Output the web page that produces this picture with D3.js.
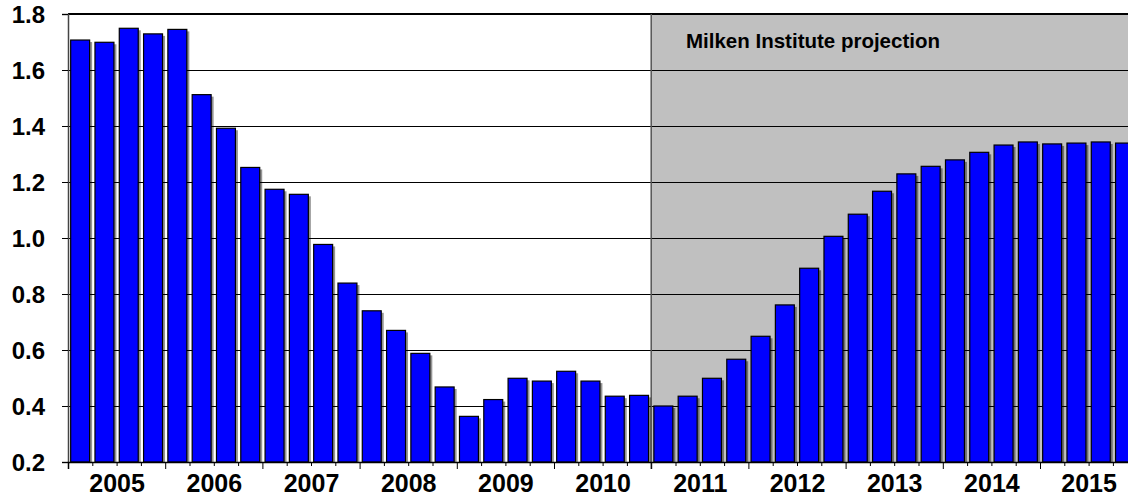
<!DOCTYPE html>
<html>
<head>
<meta charset="utf-8">
<script src="https://cdn.jsdelivr.net/npm/d3@7"></script>
<style>
  html, body { margin: 0; padding: 0; background: #fff; }
  svg { display: block; }
  text { font-family: "Liberation Sans", Arial, sans-serif; font-weight: bold; fill: #000; }
</style>
</head>
<body>
<svg id="chart" width="1128" height="499"></svg>
<script>
// ---- data ----
const years = ["2005","2006","2007","2008","2009","2010","2011","2012","2013","2014","2015"];
const quarters = ["Q1","Q2","Q3","Q4"];
const values = [
  1.707, 1.699, 1.749, 1.729,   // 2005
  1.745, 1.512, 1.392, 1.252,   // 2006
  1.174, 1.156, 0.977, 0.839,   // 2007
  0.740, 0.670, 0.588, 0.468,   // 2008
  0.363, 0.423, 0.499, 0.489,   // 2009
  0.524, 0.489, 0.435, 0.438,   // 2010
  0.400, 0.435, 0.499, 0.567,   // 2011
  0.649, 0.761, 0.892, 1.006,   // 2012
  1.085, 1.167, 1.229, 1.256,   // 2013
  1.279, 1.306, 1.332, 1.343,   // 2014
  1.336, 1.339, 1.343, 1.339    // 2015
];
const yTicks = [0.2, 0.4, 0.6, 0.8, 1.0, 1.2, 1.4, 1.6, 1.8];
const projectionStartYear = "2011";
const projectionLabel = "Milken Institute projection";

// ---- layout ----
const svg = d3.select("#chart");
const plotLeft = 68, plotTop = 14, plotBottom = 462;
const qWidth = 24.3;
const plotRight = plotLeft + qWidth * values.length;

const periods = [];
years.forEach(yr => quarters.forEach(q => periods.push(yr + " " + q)));
const data = periods.map((p, i) => ({ period: p, value: values[i] }));

const x = d3.scaleBand().domain(periods).range([plotLeft, plotRight]).paddingInner(0.22).paddingOuter(0.11);
const xi = d3.scaleLinear().domain([0, periods.length]).range([plotLeft, plotRight]);
const y = d3.scaleLinear().domain([0.2, 1.8]).range([plotBottom, plotTop]);

// projection shading
const projStart = xi(years.indexOf(projectionStartYear) * 4);
svg.append("rect")
  .attr("x", projStart).attr("y", plotTop)
  .attr("width", plotRight - projStart).attr("height", plotBottom - plotTop)
  .attr("fill", "#C0C0C0");

// gridlines
svg.append("g").selectAll("line").data(yTicks.slice(1)).join("line")
  .attr("x1", plotLeft).attr("x2", plotRight)
  .attr("y1", d => Math.round(y(d)) + 0.5).attr("y2", d => Math.round(y(d)) + 0.5)
  .attr("stroke", "#000").attr("stroke-width", 1);

// top border (thicker)
svg.append("line")
  .attr("x1", plotLeft).attr("x2", plotRight)
  .attr("y1", y(1.8)).attr("y2", y(1.8))
  .attr("stroke", "#000").attr("stroke-width", 2);

// projection separator
svg.append("line")
  .attr("x1", projStart).attr("x2", projStart)
  .attr("y1", plotTop).attr("y2", plotBottom + 7)
  .attr("stroke", "#555").attr("stroke-width", 1.5);

// projection label
svg.append("text")
  .attr("x", 686).attr("y", 48)
  .attr("font-size", "20.5px")
  .text(projectionLabel);

// bar shadows
svg.append("g").selectAll("rect").data(data).join("rect")
  .attr("x", d => x(d.period) + 2.5)
  .attr("y", d => y(d.value) + 2)
  .attr("width", x.bandwidth())
  .attr("height", d => Math.max(0, plotBottom - y(d.value) - 2))
  .attr("fill", "rgba(0,0,0,0.42)");

// bars
svg.append("g").selectAll("rect").data(data).join("rect")
  .attr("x", d => x(d.period))
  .attr("y", d => y(d.value))
  .attr("width", x.bandwidth())
  .attr("height", d => plotBottom - y(d.value))
  .attr("fill", "#0000FF")
  .attr("stroke", "#000")
  .attr("stroke-width", 1.2);

// y axis
const yAxis = d3.axisLeft(y).tickValues(yTicks).tickFormat(d3.format(".1f")).tickSize(6).tickPadding(17);
const gy = svg.append("g").attr("transform", `translate(${plotLeft},0)`).call(yAxis);
gy.select(".domain").attr("stroke", "#444").attr("stroke-width", 1.5);
gy.selectAll(".tick line").attr("stroke", "#000");
gy.selectAll(".tick text").attr("font-size", "24px").attr("font-family", "Liberation Sans, Arial, sans-serif").attr("font-weight", "bold").attr("dy", "0.36em");

// x axis: quarter ticks (minor) and year ticks (major)
const minorIdx = d3.range(0, periods.length + 1).filter(i => i % 4 !== 0);
const majorIdx = d3.range(0, periods.length + 1).filter(i => i % 4 === 0);
const gxMinor = svg.append("g").attr("transform", `translate(0,${plotBottom})`)
  .call(d3.axisBottom(xi).tickValues(minorIdx).tickSize(4).tickFormat(""));
gxMinor.select(".domain").remove();
const gxMajor = svg.append("g").attr("transform", `translate(0,${plotBottom})`)
  .call(d3.axisBottom(xi).tickValues(majorIdx).tickSize(7).tickFormat(""));
gxMajor.select(".domain").attr("stroke", "#000").attr("stroke-width", 1.5);

// year labels
const yearCenters = years.map((yr, i) => i * 4 + 2);
const gxLabels = svg.append("g").attr("transform", `translate(0,${plotBottom})`)
  .call(d3.axisBottom(xi).tickValues(yearCenters).tickSize(0).tickPadding(12).tickFormat((d, i) => years[i]));
gxLabels.select(".domain").remove();
gxLabels.selectAll(".tick text").attr("font-size", "25px").attr("font-family", "Liberation Sans, Arial, sans-serif").attr("font-weight", "bold");
</script>
</body>
</html>
